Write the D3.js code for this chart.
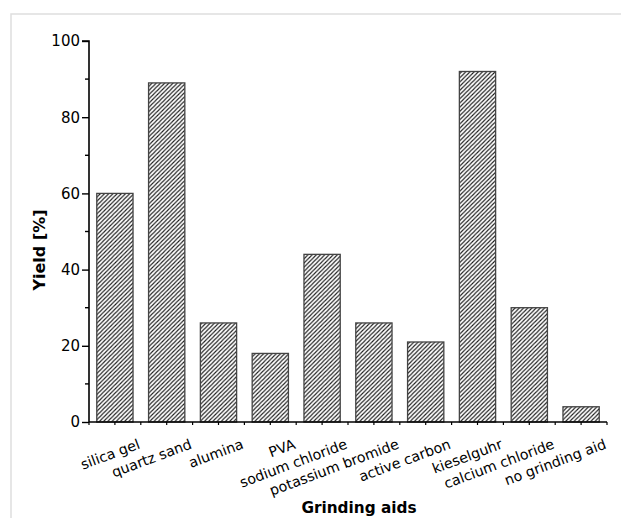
<!DOCTYPE html>
<html><head><meta charset="utf-8">
<script src="https://cdn.jsdelivr.net/npm/d3@7"></script>
<style>body{margin:0;background:#fff;}svg{display:block;}</style>
</head><body>
<svg id="c" width="621" height="518"></svg>
<script>
const categories = ["silica gel","quartz sand","alumina","PVA","sodium chloride","potassium bromide","active carbon","kieselguhr","calcium chloride","no grinding aid"];
const yieldValues = [60,89,26,18,44,26,21,92,30,4];
const yTicks = [0,20,40,60,80,100];
const yMinorTicks = [10,30,50,70,90];

const svg = d3.select("#c");
// outer frame
svg.append("rect").attr("x",11).attr("y",14).attr("width",630).attr("height",530)
  .attr("fill","none").attr("stroke","#dedede").attr("stroke-width",1.5);

const defs = svg.append("defs");
const pat = defs.append("pattern").attr("id","hatch").attr("patternUnits","userSpaceOnUse")
  .attr("width",4.2).attr("height",4.2);
pat.append("rect").attr("width",4.2).attr("height",4.2).attr("fill","#fff");
pat.append("path").attr("d","M-1,1 L1,-1 M0,4.2 L4.2,0 M3.2,5.2 L5.2,3.2")
  .attr("stroke","#1a1a1a").attr("stroke-width",1.1);

const pL=89, pR=607, pT=41, pB=422;
const x = d3.scaleBand().domain(categories).range([pL,pR]).paddingInner(0.3).paddingOuter(0.15);
const y = d3.scaleLinear().domain([0,100]).range([pB,pT]);

svg.append("g").selectAll("rect").data(categories).join("rect")
  .attr("x",d=>x(d)).attr("width",x.bandwidth())
  .attr("y",(d,i)=>y(yieldValues[i])).attr("height",(d,i)=>y(0)-y(yieldValues[i]))
  .attr("fill","url(#hatch)").attr("stroke","#444").attr("stroke-width",1.3);

// y axis
const ya = svg.append("g").attr("transform",`translate(${pL},0)`)
  .call(d3.axisLeft(y).tickValues(yTicks).tickSize(7).tickPadding(2));
ya.select(".domain").attr("stroke-width",1.6).attr("d",`M-7,${pT}H0V${pB}`);
ya.selectAll(".tick line").attr("stroke-width",1.4);
ya.selectAll("text").attr("font-family","DejaVu Sans").attr("font-size",15).attr("fill","#000");
ya.selectAll(".minor").data(yMinorTicks).join("line").attr("class","minor")
  .attr("x1",-4).attr("x2",0).attr("y1",d=>y(d)).attr("y2",d=>y(d)).attr("stroke","#000").attr("stroke-width",1.4);

// x axis
const step = x.step();
const xa = svg.append("g").attr("transform",`translate(0,${pB})`);
xa.append("line").attr("x1",pL).attr("x2",pR).attr("stroke","#000").attr("stroke-width",1.6);
const xt = d3.range(0,21).map(k=>pL + k*step/2);
xa.selectAll(".xt").data(xt).join("line").attr("class","xt")
  .attr("x1",d=>d).attr("x2",d=>d).attr("y1",0).attr("y2",3).attr("stroke","#000").attr("stroke-width",1.2);
xa.selectAll("text").data(categories).join("text")
  .attr("transform",d=>`translate(${x(d)+x.bandwidth()/2+26},26) rotate(-20.5)`)
  .attr("text-anchor","end").attr("font-family","DejaVu Sans").attr("font-size",14.2).attr("fill","#000")
  .text(d=>d);

svg.append("text").attr("transform","translate(45,250) rotate(-90)").attr("text-anchor","middle")
  .attr("font-family","DejaVu Sans").attr("font-weight","bold").attr("font-size",16).text("Yield [%]");
svg.append("text").attr("x",359).attr("y",513).attr("text-anchor","middle")
  .attr("font-family","DejaVu Sans").attr("font-weight","bold").attr("font-size",15.3).text("Grinding aids");
</script>
</body></html>
